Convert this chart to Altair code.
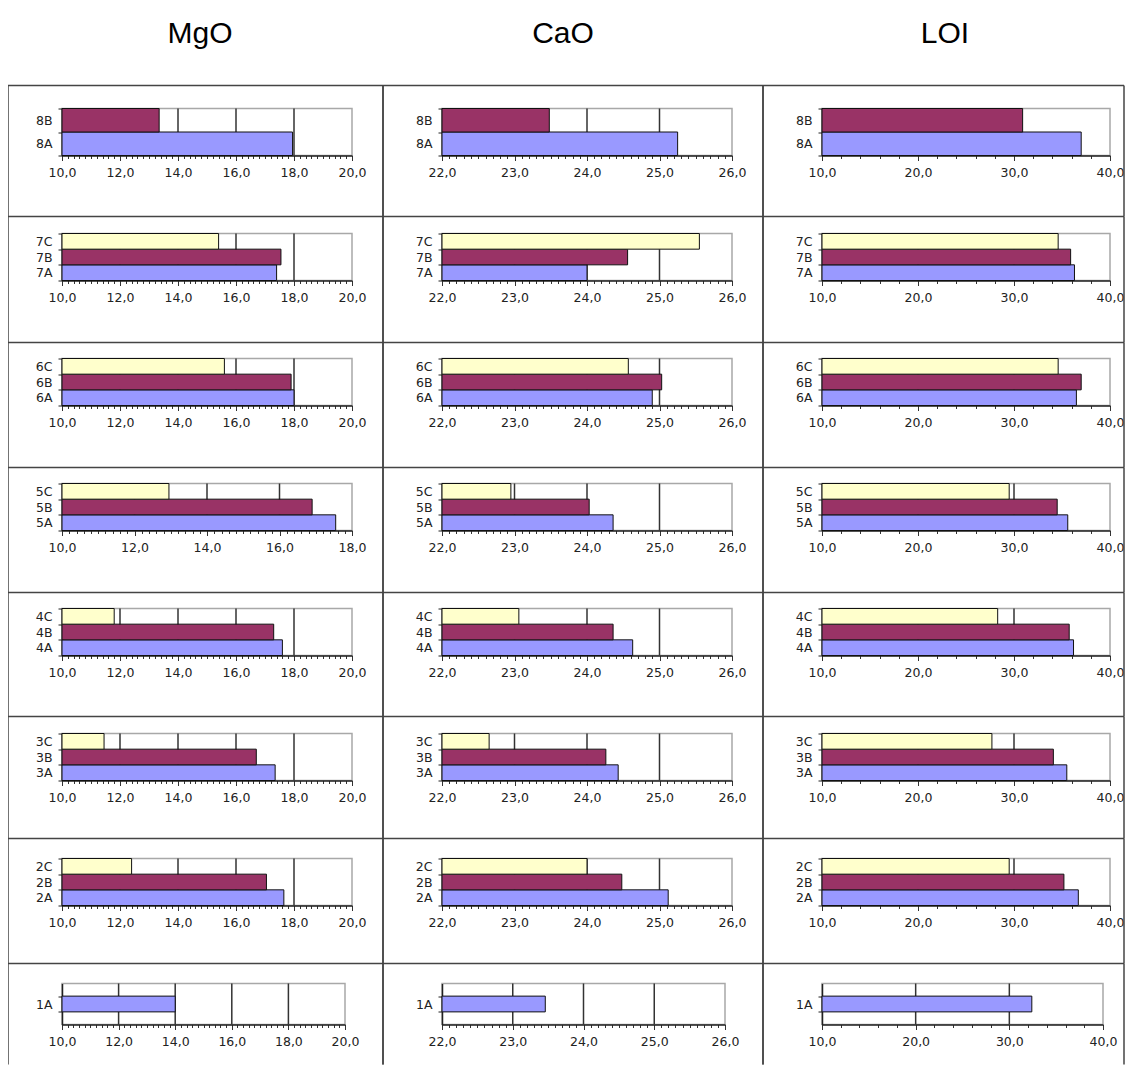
import altair as alt
import pandas as pd

# ---------------- data ----------------
ROWS = ["8", "7", "6", "5", "4", "3", "2", "1"]
ROW_SERIES = [["A", "B"], ["A", "B", "C"], ["A", "B", "C"], ["A", "B", "C"],
              ["A", "B", "C"], ["A", "B", "C"], ["A", "B", "C"], ["A"]]

OXIDES = ["MgO", "CaO", "LOI"]

# values per row, order A, B, C
MGO = [[17.95, 13.35], [17.4, 17.55, 15.4], [18.0, 17.9, 15.6], [17.55, 16.9, 12.95],
       [17.6, 17.3, 11.8], [17.35, 16.7, 11.45], [17.65, 17.05, 12.4], [14.0]]
CAO = [[25.25, 23.48], [24.0, 24.56, 25.55], [24.9, 25.03, 24.57], [24.36, 24.03, 22.95],
       [24.63, 24.36, 23.06], [24.43, 24.26, 22.65], [25.12, 24.48, 24.0], [23.46]]
LOI = [[37.0, 30.9], [36.3, 35.9, 34.6], [36.5, 37.0, 34.6], [35.6, 34.5, 29.5],
       [36.2, 35.75, 28.3], [35.5, 34.1, 27.7], [36.7, 35.2, 29.5], [32.4]]
VALUES = [MGO, CAO, LOI]

MGO_TICKS = [10, 12, 14, 16, 18, 20]
MGO_TICKS_ROW5 = [10, 12, 14, 16, 18]
CAO_TICKS = [22, 23, 24, 25, 26]
LOI_TICKS = [10, 20, 30, 40]
MINOR_STEP = [0.2, 0.1, 2]

SERIES = ["A", "B", "C"]
COLORS = ["#9999FF", "#993366", "#FFFFCC"]

# ---------------- layout (pixels) ----------------
FONT = "DejaVu Sans"
TITLE_FONT = "Liberation Sans"
PLOT_W = [290, 290, 288]
PLOT_W_LAST = [283, 283, 281]
PLOT_H = 47
PLOT_H_LAST = 41
ROW_STEP = 125
COL_SPACING = 90
# table border offsets relative to each panel's plot area
BX = [(-54, 321), (-59, 321), (-59, 302)]
BORDER_Y = [85, 216, 342, 467, 592, 716, 838, 963, 1064]
FIRST_PLOT_TOP = 108
TITLE_DX = [-7, -24, -21]
LINE = "#444"


def ticks_for(ci, ri):
    if ci == 0:
        return MGO_TICKS_ROW5 if ROWS[ri] == "5" else MGO_TICKS
    return CAO_TICKS if ci == 1 else LOI_TICKS


def cell(ri, ci):
    rid = ROWS[ri]
    series = ROW_SERIES[ri]
    labels = [rid + s for s in series]
    vals = VALUES[ci][ri]
    df = pd.DataFrame({"label": labels, "series": series, "value": vals})
    majors = ticks_for(ci, ri)
    domain = [majors[0], majors[-1]]
    step = majors[1] - majors[0]
    mstep = MINOR_STEP[ci]
    n = int(round((domain[1] - domain[0]) / mstep))
    minors = [round(domain[0] + i * mstep, 4) for i in range(n + 1)]
    is_major = f"abs(datum.value/{step} - round(datum.value/{step})) < 0.001"

    last = rid == "1"
    w = PLOT_W_LAST[ci] if last else PLOT_W[ci]
    h = PLOT_H_LAST if last else PLOT_H

    xscale = alt.Scale(domain=domain, zero=False, nice=False)

    def xaxis():
        return alt.Axis(
            values=minors, title=None, grid=False,
            labelExpr=f"({is_major}) ? replace(format(datum.value, '.1f'), '.', ',') : ''",
            tickSize={"condition": {"test": is_major, "value": 5}, "value": 3},
            labelFlush=False, labelOverlap=False, labelFontSize=12.5, labelPadding=6,
            labelFont=FONT, labelColor="#222", domainColor="#222", domainWidth=1.5,
            tickColor="#333", tickWidth=1,
        )

    yaxis = alt.Axis(
        title=None, tickBand="extent", tickSize=4, labelFontSize=12.5, labelPadding=6,
        labelFont=FONT, labelColor="#222", domainColor="#222", domainWidth=1.5,
        tickColor="#222", grid=False,
    )
    po = 0.8 if last else 0

    interior = majors[1:-1]
    grid = alt.Chart(pd.DataFrame({"value": interior})).mark_rule(
        color="#333", strokeWidth=1.5
    ).encode(x=alt.X("value:Q", scale=xscale, axis=xaxis()))

    bars = alt.Chart(df).mark_bar(stroke="#111", strokeWidth=1).encode(
        x=alt.X("value:Q", scale=xscale, axis=xaxis()),
        x2=alt.datum(domain[0]),
        y=alt.Y("label:N", scale=alt.Scale(domain=labels[::-1], paddingInner=0, paddingOuter=po),
                axis=yaxis),
        color=alt.Color("series:N", scale=alt.Scale(domain=SERIES, range=COLORS), legend=None),
    )

    plot_top = FIRST_PLOT_TOP + ri * ROW_STEP
    by0 = BORDER_Y[ri] - plot_top
    by1 = BORDER_Y[ri + 1] - plot_top
    one = pd.DataFrame({"k": [0]})
    top_line = alt.Chart(one).mark_rule(color=LINE, strokeWidth=1.5).encode(
        x=alt.value(BX[ci][0]), x2=alt.value(BX[ci][1]), y=alt.value(by0))
    left_line = alt.Chart(one).mark_rule(color=LINE, strokeWidth=1.5).encode(
        x=alt.value(BX[ci][0]), y=alt.value(by0), y2=alt.value(by1))
    right_line = alt.Chart(one).mark_rule(color=LINE, strokeWidth=1.5).encode(
        x=alt.value(BX[ci][1]), y=alt.value(by0), y2=alt.value(by1))

    kwargs = {}
    if ri == 0:
        kwargs["title"] = alt.TitleParams(
            OXIDES[ci], fontSize=30, font=TITLE_FONT, fontWeight="normal", color="#000",
            anchor="middle", frame="group", dx=TITLE_DX[ci], offset=12,
            baseline="alphabetic",
        )
    return alt.layer(grid, bars, top_line, left_line, right_line, **kwargs).properties(
        width=w, height=h)


cells = [cell(ri, ci) for ri in range(len(ROWS)) for ci in range(3)]

chart = alt.concat(
    *cells, columns=3, bounds="flush",
    spacing={"row": ROW_STEP - PLOT_H, "column": COL_SPACING},
).properties(
    padding={"left": -2, "top": 9.5, "right": 0, "bottom": 0},
    background="#ffffff",
).configure_view(stroke="#a8a8a8", strokeWidth=1.5)

chart.save("out.html", embed_options={"renderer": "svg", "actions": False})
